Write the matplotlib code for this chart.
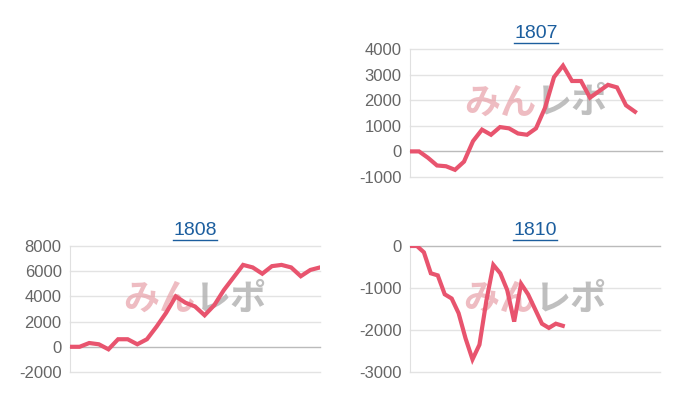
import matplotlib.pyplot as plt

plt.rcParams['axes.unicode_minus'] = False
plt.rcParams['font.family'] = ['Liberation Sans', 'DejaVu Sans']

line_color = '#e8546e'
title_color = '#1c5e9e'

vals_1807 = [0, 0, -250, -550, -580, -720, -400, 400, 850, 650, 950, 900, 700,
             650, 900, 1700, 2900, 3350, 2750, 2750, 2100, 2350, 2600, 2500,
             1800, 1550]
vals_1808 = [0, 0, 300, 200, -200, 600, 600, 200, 600, 1600, 2700, 4000, 3500,
             3200, 2500, 3300, 4500, 5500, 6500, 6300, 5800, 6400, 6500, 6300,
             5600, 6100, 6300]
vals_1810 = [0, 0, -150, -650, -700, -1150, -1250, -1600, -2200, -2700, -2350,
             -1300, -450, -650, -1050, -1800, -900, -1150, -1500, -1850, -1950,
             -1850, -1900]

panels = [
    ('1807', vals_1807, 28, (-1000, 4000), [-1000, 0, 1000, 2000, 3000, 4000],
     (410, 49, 662, 177)),
    ('1808', vals_1808, 26, (-2000, 8000), [-2000, 0, 2000, 4000, 6000, 8000],
     (70, 246, 320, 372)),
    ('1810', vals_1810, 36, (-3000, 0), [-3000, -2000, -1000, 0],
     (410, 246, 660, 372)),
]

W, H = 700, 400
fig = plt.figure(figsize=(7, 4), dpi=100)

for title, vals, nx, ylim, ticks, (l, t, r, b) in panels:
    ax = fig.add_axes([l / W, 1 - b / H, (r - l) / W, (b - t) / H])
    ax.set_xlim(0, nx)
    ax.set_ylim(*ylim)
    ax.set_yticks(ticks)
    ax.set_xticks([])
    for v in ticks:
        ax.axhline(v, color='#bbbbbb' if v == 0 else '#e3e3e3', lw=1, zorder=1,
                   clip_on=False)
    for s in ['top', 'right', 'bottom']:
        ax.spines[s].set_visible(False)
    ax.spines['left'].set_color('#e0e0e0')
    ax.tick_params(axis='y', length=0, labelsize=12, labelcolor='#666666', pad=6)
    ax.text(0.5, 0.58, 'みん', transform=ax.transAxes, ha='right', va='center',
            fontsize=26, fontweight='bold', style='italic', color='#e8a0a8',
            alpha=0.7, family=['Noto Sans CJK JP'], zorder=2)
    ax.text(0.5, 0.58, 'レポ', transform=ax.transAxes, ha='left', va='center',
            fontsize=26, fontweight='bold', style='italic', color='#b0b0b0',
            alpha=0.8, family=['Noto Sans CJK JP'], zorder=2)
    ax.plot(range(len(vals)), vals, color=line_color, lw=3, zorder=3,
            solid_joinstyle='miter')
    tt = ax.set_title(title, color=title_color, fontsize=14, pad=8)
    fig.canvas.draw()
    bb = tt.get_window_extent()
    x0, x1 = bb.x0 / W, bb.x1 / W
    y = bb.y0 / H - 0.004
    fig.add_artist(plt.Line2D([x0, x1], [y, y], color=title_color, lw=1))

fig.savefig('out.png', dpi=100)
